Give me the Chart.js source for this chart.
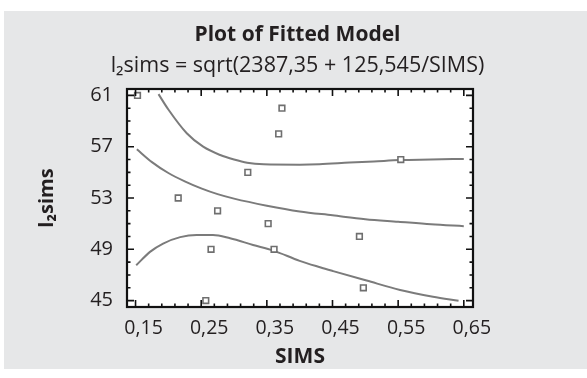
<!DOCTYPE html>
<html>
<head>
<meta charset="utf-8">
<script src="https://cdn.jsdelivr.net/npm/chart.js@4.4.0/dist/chart.umd.min.js"></script>
<style>
  html, body { margin: 0; padding: 0; background: #fff; }
  #wrap { width: 587px; height: 378px; }
</style>
</head>
<body>
<div id="wrap"><canvas id="c" width="587" height="378"></canvas></div>
<script>
// observed points
const simsX = [0.153, 0.215, 0.257, 0.265, 0.275, 0.321, 0.352, 0.361, 0.368, 0.373, 0.491, 0.497, 0.554];
const simsY = [61, 53, 45, 49, 52, 55, 51, 49, 58, 60, 50, 46, 56];

// fitted line
const fitX = [0.152, 0.175, 0.2, 0.225, 0.25, 0.275, 0.3, 0.35, 0.4, 0.45, 0.5, 0.55, 0.6, 0.65];
const fitY = [56.8, 55.8, 54.95, 54.3, 53.75, 53.3, 52.95, 52.4, 51.95, 51.65, 51.35, 51.15, 50.95, 50.8];

// upper limit
const upX = [0.185, 0.2, 0.228, 0.253, 0.279, 0.3, 0.32, 0.345, 0.4, 0.43, 0.476, 0.513, 0.553, 0.6, 0.65];
const upY = [61.1, 59.9, 58.05, 57.0, 56.35, 56.0, 55.75, 55.63, 55.6, 55.63, 55.76, 55.85, 55.96, 56.0, 56.05];

// lower limit
const loX = [0.151, 0.172, 0.192, 0.218, 0.243, 0.268, 0.294, 0.329, 0.36, 0.4, 0.431, 0.451, 0.502, 0.553, 0.603, 0.642];
const loY = [47.75, 48.8, 49.45, 49.95, 50.12, 50.12, 49.86, 49.34, 48.9, 48.1, 47.6, 47.3, 46.56, 45.83, 45.3, 44.98];

const xTicks = [0.15, 0.25, 0.35, 0.45, 0.55, 0.65];
const yTicks = [45, 49, 53, 57, 61];

const FONT = "'Open Sans', 'Noto Sans', sans-serif";
const INK = '#231f20';
const LINE = '#7b7b7b';

function pairs(xs, ys) {
  return xs.map((x, i) => ({x: x, y: ys[i]}));
}

function lineSet(xs, ys) {
  return {
    type: 'line',
    data: pairs(xs, ys),
    borderColor: LINE,
    borderWidth: 2,
    pointRadius: 0,
    fill: false,
    cubicInterpolationMode: 'monotone',
    order: 2
  };
}

// gray panel, white plot box, black frame with inward ticks
const frame = {
  id: 'frame',
  beforeDraw(chart) {
    const ctx = chart.ctx, a = chart.chartArea;
    ctx.save();
    ctx.fillStyle = '#fff';
    ctx.fillRect(0, 0, chart.width, chart.height);
    ctx.fillStyle = '#e6e7e8';
    ctx.fillRect(4, 11, chart.width - 4, 358);
    ctx.fillStyle = '#fff';
    ctx.fillRect(a.left, a.top, a.right - a.left, a.bottom - a.top);
    ctx.restore();
  },
  afterDatasetsDraw(chart) {
    const ctx = chart.ctx, a = chart.chartArea;
    const xs = chart.scales.x, ys = chart.scales.y;
    ctx.save();
    ctx.strokeStyle = '#111';
    ctx.lineWidth = 1.6;
    ctx.beginPath();
    for (let i = 0; i <= 25; i++) {
      const v = 0.15 + i * 0.02;
      const px = xs.getPixelForValue(v);
      const len = i % 5 === 0 ? 7 : 3.5;
      ctx.moveTo(px, a.bottom); ctx.lineTo(px, a.bottom - len);
      ctx.moveTo(px, a.top); ctx.lineTo(px, a.top + len);
    }
    for (let v = 45; v <= 61; v++) {
      const py = ys.getPixelForValue(v);
      const len = (v - 45) % 4 === 0 ? 7 : 3.5;
      ctx.moveTo(a.left, py); ctx.lineTo(a.left + len, py);
      ctx.moveTo(a.right, py); ctx.lineTo(a.right - len, py);
    }
    ctx.stroke();
    ctx.lineWidth = 2.2;
    ctx.strokeRect(a.left, a.top, a.right - a.left, a.bottom - a.top);
    ctx.restore();
  }
};

new Chart(document.getElementById('c'), {
  type: 'scatter',
  data: {
    datasets: [
      lineSet(fitX, fitY),
      lineSet(upX, upY),
      lineSet(loX, loY),
      {
        data: pairs(simsX, simsY),
        pointStyle: 'rect',
        pointRadius: 4,
        pointBorderWidth: 1.6,
        pointBorderColor: '#6f6f6f',
        pointBackgroundColor: '#fff',
        order: 1
      }
    ]
  },
  options: {
    responsive: false,
    animation: false,
    layout: { padding: { left: 8, right: 0, top: 12, bottom: 8 } },
    plugins: {
      legend: { display: false },
      tooltip: { enabled: false },
      title: {
        display: true,
        text: 'Plot of Fitted Model',
        color: INK,
        font: { family: FONT, size: 21, weight: 'bold', lineHeight: 1.2 },
        padding: { top: 10.4, bottom: 0 }
      },
      subtitle: {
        display: true,
        text: 'l\u2082sims = sqrt(2387,35 + 125,545/SIMS)',
        color: INK,
        font: { family: FONT, size: 21.5, weight: 'normal', lineHeight: 1.2 },
        padding: { top: 5.5, bottom: 10.1 }
      }
    },
    scales: {
      x: {
        type: 'linear',
        min: 0.137,
        max: 0.664,
        afterBuildTicks: (s) => { s.ticks = xTicks.map(v => ({value: v})); },
        afterFit: (s) => { s.height = 63; },
        grid: { display: false, drawTicks: false },
        border: { display: false },
        ticks: {
          color: INK,
          font: { family: FONT, size: 19.5 },
          padding: 10,
          labelOffset: 8,
          maxRotation: 0,
          callback: (v) => v.toFixed(2).replace('.', ',')
        },
        title: {
          display: true,
          text: 'SIMS',
          color: INK,
          font: { family: FONT, size: 21, weight: 'bold', lineHeight: 1.2 },
          padding: { top: 0, bottom: 0 }
        }
      },
      y: {
        type: 'linear',
        min: 44.5,
        max: 61.5,
        afterBuildTicks: (s) => { s.ticks = yTicks.map(v => ({value: v})); },
        afterFit: (s) => { s.width = 119; },
        grid: { display: false, drawTicks: false },
        border: { display: false },
        ticks: {
          color: INK,
          font: { family: FONT, size: 20 },
          padding: 14,
          callback: (v) => String(v)
        },
        title: {
          display: true,
          text: 'l\u2082sims',
          color: INK,
          font: { family: FONT, size: 20, weight: 'bold', lineHeight: 1.2 },
          padding: { top: 27, bottom: 0 }
        }
      },
      // empty right-hand box that keeps the plot at its place
      yRight: {
        type: 'linear',
        position: 'right',
        afterFit: (s) => { s.width = 114; },
        grid: { display: false, drawTicks: false },
        border: { display: false },
        ticks: { display: false }
      }
    }
  },
  plugins: [frame]
});
</script>
</body>
</html>
